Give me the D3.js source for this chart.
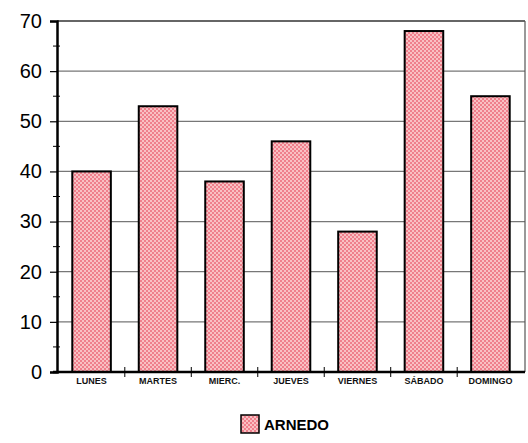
<!DOCTYPE html>
<html><head><meta charset="utf-8">
<script src="https://cdn.jsdelivr.net/npm/d3@7"></script>
<style>body{margin:0;background:#fff}svg{display:block}</style>
</head><body>
<svg id="c" width="528" height="443"></svg>
<script>
const categories = ["LUNES","MARTES","MIERC.","JUEVES","VIERNES","SÁBADO","DOMINGO"];
const values = [40,53,38,46,28,68,55];
const yTicks = [0,10,20,30,40,50,60,70];
const seriesName = "ARNEDO";

const svg = d3.select("#c");
const m = {left:57, right:525, top:21, bottom:372};
const x = d3.scaleBand().domain(categories).range([m.left, m.right]).paddingInner(0.42).paddingOuter(0.23);
const y = d3.scaleLinear().domain([0,70]).range([m.bottom, m.top]);

const defs = svg.append("defs");
const pat = defs.append("pattern").attr("id","chk").attr("patternUnits","userSpaceOnUse").attr("width",4).attr("height",4);
pat.append("rect").attr("width",4).attr("height",4).attr("fill","#f9c0c3");
pat.append("rect").attr("width",2).attr("height",2).attr("fill","#ef7f8c");
pat.append("rect").attr("x",2).attr("y",2).attr("width",2).attr("height",2).attr("fill","#ef7f8c");

// gridlines
svg.append("g").selectAll("line").data(yTicks.filter(d=>d>0 && d<70)).join("line")
  .attr("x1",m.left).attr("x2",m.right).attr("y1",d=>y(d)).attr("y2",d=>y(d))
  .attr("stroke","#777").attr("stroke-width",1.2);
// frame top and right
svg.append("line").attr("x1",m.left).attr("x2",m.right).attr("y1",y(70)).attr("y2",y(70)).attr("stroke","#333").attr("stroke-width",1.5);
svg.append("line").attr("x1",m.right).attr("x2",m.right).attr("y1",y(70)).attr("y2",y(0)).attr("stroke","#555").attr("stroke-width",1.2);

// bars
svg.append("g").selectAll("rect").data(values).join("rect")
  .attr("x",(d,i)=>x(categories[i])).attr("width",x.bandwidth())
  .attr("y",d=>y(d)).attr("height",d=>y(0)-y(d))
  .attr("fill","url(#chk)").attr("stroke","#000").attr("stroke-width",2);

// y axis
const yAxis = d3.axisLeft(y).tickValues(yTicks).tickSize(7).tickPadding(8);
const gy = svg.append("g").attr("transform",`translate(${m.left},0)`).call(yAxis);
gy.select(".domain").attr("stroke","#000").attr("stroke-width",2.5);
gy.selectAll(".tick line").attr("stroke","#000").attr("stroke-width",1.2);
gy.selectAll("text").attr("font-family","Liberation Sans, Arial, sans-serif").attr("font-size",20).attr("fill","#000");
// minor ticks
svg.append("g").selectAll("line").data(d3.range(5,70,10)).join("line")
  .attr("x1",m.left-4).attr("x2",m.left+3).attr("y1",d=>y(d)).attr("y2",d=>y(d))
  .attr("stroke","#000").attr("stroke-width",1);

// x axis baseline
svg.append("line").attr("x1",m.left-4).attr("x2",m.right).attr("y1",y(0)).attr("y2",y(0)).attr("stroke","#000").attr("stroke-width",2.5);
// x category separator ticks
svg.append("g").selectAll("line").data(categories.slice(1)).join("line")
  .attr("x1",d=>x(d)-x.step()*x.paddingInner()/2).attr("x2",d=>x(d)-x.step()*x.paddingInner()/2)
  .attr("y1",y(0)-5).attr("y2",y(0)+5).attr("stroke","#000").attr("stroke-width",1);
const xAxis = d3.axisBottom(x).tickSize(0).tickPadding(6);
const gx = svg.append("g").attr("transform",`translate(0,${y(0)})`).call(xAxis);
gx.select(".domain").remove();
gx.selectAll("text").attr("font-family","Liberation Sans, Arial, sans-serif").attr("font-size",9).attr("font-weight","bold").attr("fill","#111");

// legend
svg.append("rect").attr("x",241).attr("y",415).attr("width",18).attr("height",18).attr("fill","url(#chk)").attr("stroke","#000").attr("stroke-width",1.5);
svg.append("text").attr("x",264).attr("y",430).text(seriesName)
  .attr("font-family","Liberation Sans, Arial, sans-serif").attr("font-size",15).attr("font-weight","bold").attr("fill","#000");
</script>
</body></html>
